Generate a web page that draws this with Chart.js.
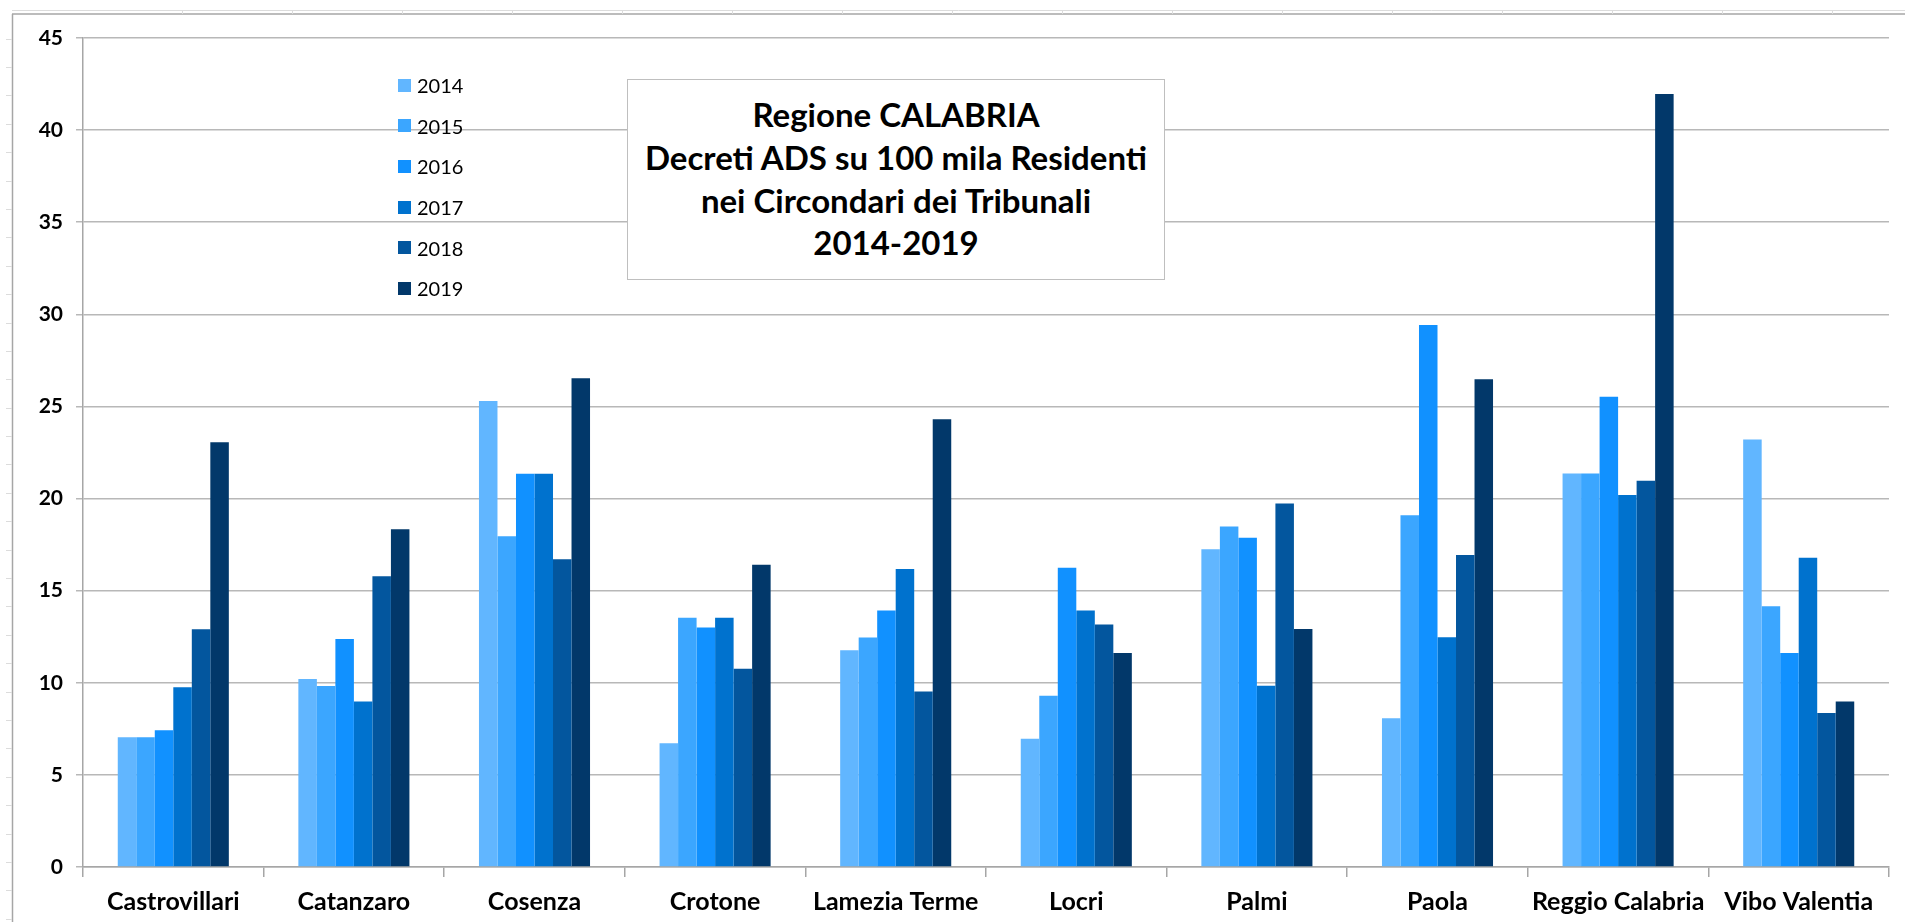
<!DOCTYPE html>
<html>
<head>
<meta charset="utf-8">
<script src="https://cdn.jsdelivr.net/npm/chart.js@4.4.1/dist/chart.umd.min.js"></script>
<style>
  html, body { margin: 0; padding: 0; background: #fff; }
  #wrap { position: relative; width: 1905px; height: 922px; }
  #legend { position: absolute; left: 398px; top: 65px; font-family: Lato, sans-serif; font-size: 20px; color: #000; }
  .item { display: flex; align-items: center; height: 40.6px; }
  .sw { width: 13px; height: 13px; margin-right: 6px; }
  #title {
    position: absolute; left: 627px; top: 79px; width: 538px; height: 201px;
    box-sizing: border-box; border: 1.5px solid #bfbfbf; background: #fff;
    font-family: Lato, sans-serif; font-weight: bold; font-size: 33px; color: #000;
    text-align: center; line-height: 42.8px; padding-top: 13px; white-space: nowrap;
  }
</style>
</head>
<body>
<div id="wrap">
  <canvas id="chart" width="1905" height="922"></canvas>
  <div id="legend"></div>
  <div id="title">Regione CALABRIA<br>Decreti ADS su 100 mila Residenti<br>nei Circondari dei Tribunali<br>2014-2019</div>
</div>
<script>
const categories = ['Castrovillari', 'Catanzaro', 'Cosenza', 'Crotone', 'Lamezia Terme', 'Locri', 'Palmi', 'Paola', 'Reggio Calabria', 'Vibo Valentia'];
const years = ['2014', '2015', '2016', '2017', '2018', '2019'];
const yearColors = ['#61b6ff', '#3ba6ff', '#1191ff', '#0072ce', '#03569e', '#02386a'];

const v2014 = [7.04, 10.21, 25.3, 6.72, 11.77, 6.96, 17.25, 8.07, 21.36, 23.21];
const v2015 = [7.04, 9.83, 17.95, 13.53, 12.46, 9.29, 18.48, 19.1, 21.36, 14.15];
const v2016 = [7.42, 12.38, 21.35, 13.0, 13.93, 16.25, 17.87, 29.42, 25.52, 11.62];
const v2017 = [9.76, 8.98, 21.35, 13.53, 16.17, 13.93, 9.84, 12.47, 20.19, 16.79];
const v2018 = [12.91, 15.78, 16.7, 10.76, 9.52, 13.16, 19.73, 16.94, 20.96, 8.36];
const v2019 = [23.06, 18.33, 26.53, 16.41, 24.31, 11.61, 12.92, 26.48, 41.96, 8.98];

const yTicks = [0, 5, 10, 15, 20, 25, 30, 35, 40, 45];

const series = [v2014, v2015, v2016, v2017, v2018, v2019];

// spreadsheet frame around the chart (left ruler + top header line)
const framePlugin = {
  id: 'frame',
  beforeDraw(chart) {
    const c = chart.ctx;
    c.save();
    c.strokeStyle = '#a6a6a6';
    c.lineWidth = 1.5;
    c.beginPath();
    c.moveTo(12.5, 14); c.lineTo(12.5, 922);
    c.moveTo(12, 14); c.lineTo(1905, 14);
    c.stroke();
    c.strokeStyle = '#dcdcdc';
    c.lineWidth = 1;
    c.beginPath();
    c.moveTo(12, 10.5); c.lineTo(1905, 10.5);
    for (let y = 38.5; y < 922; y += 28.4) { c.moveTo(6, Math.round(y) + 0.5); c.lineTo(12, Math.round(y) + 0.5); }
    for (let x = 181.5; x < 1905; x += 110) { c.moveTo(Math.round(x) + 0.5, 10); c.lineTo(Math.round(x) + 0.5, 14); }
    c.stroke();
    c.restore();
  }
};

const chart = new Chart(document.getElementById('chart'), {
  type: 'bar',
  data: {
    labels: categories,
    datasets: years.map((y, i) => ({
      label: y,
      data: series[i],
      backgroundColor: yearColors[i],
      borderWidth: 0,
      barPercentage: 1,
      categoryPercentage: 0.615
    }))
  },
  options: {
    responsive: false,
    animation: false,
    layout: { padding: { top: 38, right: 16, bottom: 0, left: 0 } },
    plugins: {
      legend: { display: false },
      tooltip: { enabled: false }
    },
    scales: {
      x: {
        afterFit: s => { s.height = 55; },
        grid: { display: true, drawOnChartArea: false, offset: true, tickLength: 10, color: '#a6a6a6', lineWidth: 1.5 },
        border: { color: '#a6a6a6', width: 1.5 },
        ticks: { color: '#000', padding: 10, font: { family: 'Lato', size: 25, weight: 'bold' } }
      },
      y: {
        min: 0,
        max: 45,
        afterFit: s => { s.width = 83; },
        afterBuildTicks: s => { s.ticks = yTicks.map(v => ({ value: v })); },
        grid: { color: '#b8b8b8', lineWidth: 1.5, tickLength: 7 },
        border: { color: '#a6a6a6', width: 1.5 },
        ticks: { color: '#000', padding: 13, font: { family: 'Lato', size: 21, weight: 'bold' } }
      }
    }
  },
  plugins: [framePlugin]
});

// legend built from the datasets
const legend = document.getElementById('legend');
chart.data.datasets.forEach(ds => {
  const item = document.createElement('div');
  item.className = 'item';
  const sw = document.createElement('span');
  sw.className = 'sw';
  sw.style.background = ds.backgroundColor;
  const tx = document.createElement('span');
  tx.textContent = ds.label;
  item.appendChild(sw);
  item.appendChild(tx);
  legend.appendChild(item);
});
</script>
</body>
</html>
